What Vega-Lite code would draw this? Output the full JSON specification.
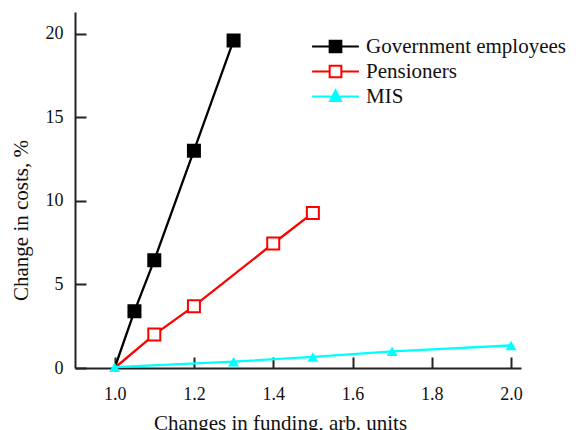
{
  "$schema": "https://vega.github.io/schema/vega-lite/v6.json",
  "width": 446,
  "height": 356,
  "autosize": {"type": "none"},
  "padding": {"left": 75, "top": 12, "right": 55, "bottom": 62},
  "background": "white",
  "config": {
    "view": {"stroke": null},
    "font": "Liberation Serif",
    "legend": {"labelFont": "Liberation Serif", "labelFontSize": 21, "labelColor": "#111111", "labelLimit": 400},
    "axis": {
      "grid": false,
      "domainColor": "#222222",
      "domainWidth": 2,
      "tickColor": "#222222",
      "tickWidth": 2,
      "tickSize": -11,
      "labelFont": "Liberation Serif",
      "labelFontSize": 18,
      "labelColor": "#111111",
      "titleFont": "Liberation Serif",
      "titleFontSize": 21,
      "titleFontWeight": "normal",
      "titleColor": "#111111"
    }
  },
  "data": {
    "values": [
      {"series": "Government employees", "x": 1.0, "y": 0.0},
      {"series": "Government employees", "x": 1.05, "y": 3.4},
      {"series": "Government employees", "x": 1.1, "y": 6.45},
      {"series": "Government employees", "x": 1.2, "y": 13.0},
      {"series": "Government employees", "x": 1.3, "y": 19.6},
      {"series": "Pensioners", "x": 1.0, "y": 0.0},
      {"series": "Pensioners", "x": 1.1, "y": 2.0},
      {"series": "Pensioners", "x": 1.2, "y": 3.7},
      {"series": "Pensioners", "x": 1.4, "y": 7.45},
      {"series": "Pensioners", "x": 1.5, "y": 9.28},
      {"series": "MIS", "x": 1.0, "y": 0.05},
      {"series": "MIS", "x": 1.3, "y": 0.38},
      {"series": "MIS", "x": 1.5, "y": 0.66},
      {"series": "MIS", "x": 1.7, "y": 1.0},
      {"series": "MIS", "x": 2.0, "y": 1.35}
    ]
  },
  "encoding": {
    "x": {
      "field": "x",
      "type": "quantitative",
      "scale": {"domain": [0.9, 2.025], "nice": false, "zero": false},
      "axis": {
        "title": "Changes in funding, arb. units",
        "values": [1.0, 1.2, 1.4, 1.6, 1.8, 2.0],
        "format": ".1f",
        "labelPadding": 28,
        "titlePadding": 9,
        "titleX": 205
      }
    },
    "y": {
      "field": "y",
      "type": "quantitative",
      "scale": {"domain": [0, 21.3], "nice": false},
      "axis": {
        "title": "Change in costs, %",
        "values": [0, 5, 10, 15, 20],
        "labelPadding": 23,
        "titlePadding": 14,
        "titleY": 208
      }
    }
  },
  "layer": [
    {
      "mark": {"type": "line", "strokeWidth": 2.3},
      "encoding": {
        "color": {
          "field": "series",
          "type": "nominal",
          "scale": {
            "domain": ["Government employees", "Pensioners", "MIS"],
            "range": ["#000000", "#ff0000", "#00ffff"]
          },
          "legend": {
            "title": null,
            "orient": "none",
            "legendX": 250,
            "legendY": 24,
            "padding": 0,
            "labelFont": "Liberation Serif",
            "labelFontSize": 21,
            "labelLimit": 400,
            "labelOffset": 20,
            "rowPadding": 3,
            "symbolSize": 169,
            "symbolStrokeWidth": 2,
            "encode": {
              "symbols": {
                "update": {
                  "shape": {"signal": "datum.value === 'MIS' ? 'M-3.6,0H3.6M0,-0.95L0.85,0.7H-0.85Z' : 'M-3.6,0H-0.9M0.9,0H3.6M-0.9,-0.9H0.9V0.9H-0.9Z'"},
                  "fill": {"signal": "datum.value === 'Government employees' ? '#000000' : datum.value === 'Pensioners' ? '#ffffff' : '#00ffff'"},
                  "fillOpacity": {"value": 1},
                  "strokeWidth": {"value": 2}
                }
              }
            }
          }
        }
      }
    },
    {
      "transform": [{"filter": "datum.x > 1 && datum.series !== 'MIS'"}],
      "mark": {"type": "point", "shape": "square", "size": 144, "filled": false, "opacity": 1, "strokeWidth": 2},
      "encoding": {
        "color": {"field": "series", "type": "nominal", "legend": null},
        "fill": {
          "field": "series",
          "type": "nominal",
          "scale": {
            "domain": ["Government employees", "Pensioners", "MIS"],
            "range": ["#000000", "#ffffff", "#00ffff"]
          },
          "legend": null
        }
      }
    },
    {
      "transform": [{"filter": "datum.series === 'MIS'"}],
      "mark": {"type": "point", "shape": "triangle-up", "size": 120, "filled": true, "opacity": 1, "color": "#00ffff"},
      "encoding": {}
    }
  ]
}
